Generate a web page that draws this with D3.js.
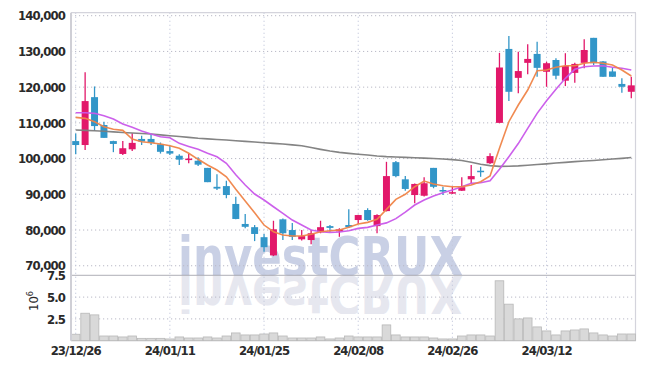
<!DOCTYPE html>
<html>
<head>
<meta charset="utf-8">
<script src="https://cdn.jsdelivr.net/npm/d3@7"></script>
<style>
  body { margin: 0; background: #fff; }
  svg { display: block; }
  .tick text { font-family: "DejaVu Sans Condensed", "DejaVu Sans", sans-serif; }
</style>
</head>
<body>
<svg id="chart" width="645" height="369"></svg>
<script>
const dates = ['23/12/26','23/12/27','23/12/28','24/01/02','24/01/03','24/01/04','24/01/05','24/01/08','24/01/09','24/01/10',
  '24/01/11','24/01/12','24/01/15','24/01/16','24/01/17','24/01/18','24/01/19','24/01/22','24/01/23','24/01/24',
  '24/01/25','24/01/26','24/01/29','24/01/30','24/01/31','24/02/01','24/02/02','24/02/05','24/02/06','24/02/07',
  '24/02/08','24/02/13','24/02/14','24/02/15','24/02/16','24/02/19','24/02/20','24/02/21','24/02/22','24/02/23',
  '24/02/26','24/02/27','24/02/28','24/02/29','24/03/04','24/03/05','24/03/06','24/03/07','24/03/08','24/03/11',
  '24/03/12','24/03/13','24/03/14','24/03/15','24/03/18','24/03/19','24/03/20','24/03/21','24/03/22','24/03/25'];

const openPrices = [104900,103800,117200,109400,104900,101300,102600,105500,105500,104000,
  102100,100800,99700,99400,97400,92100,92300,87300,81700,80800,
  78000,72900,83000,80000,77400,77200,79400,81100,79600,81400,
  82800,85600,81100,85300,99000,94200,89800,89600,97400,91200,
  90300,91000,94200,96600,98700,110000,130700,122600,126800,129300,
  124300,127600,121800,124000,126800,133800,127200,124400,120900,118700];
const highPrices = [107000,124200,120200,110300,105000,104900,107100,106400,106800,104500,
  103600,101200,101300,100400,97400,95600,93800,89300,84500,81400,
  78900,82600,83200,82000,80000,80000,82600,81400,80500,85800,
  84300,86100,84400,99100,99300,95100,93000,94800,97400,92100,
  92100,94800,98200,97700,101500,129600,134300,129900,132000,132700,
  127100,128100,129500,126800,133400,133800,127300,125400,122500,122900];
const lowPrices = [101200,102400,107800,105800,101800,101000,102100,103800,103800,101400,
  101000,98200,98700,97900,93400,91200,88900,83000,80500,76900,
  73900,72700,77200,77200,77100,76000,79100,79500,78100,80600,
  81700,82600,79100,85200,94800,91000,87500,89400,91700,89800,
  90100,90900,93100,94900,98500,109900,116100,118300,123600,122900,
  120100,122200,120300,121200,125300,126200,122900,122900,118400,116900];
const closePrices = [103800,116100,109100,105800,104100,102900,104400,104800,104400,101900,
  101400,99700,100000,98300,93400,91600,89800,83100,80900,78900,
  75200,80200,79100,78100,78300,79100,80800,80600,80200,80800,
  84200,82800,84200,95100,95100,91500,92900,93100,92100,90800,
  90600,92000,95100,96200,100700,125500,118700,124500,127900,125400,
  126700,123200,125900,126500,130400,126700,122900,122900,120100,120500];
// volume, millions of shares
const volumes = [0.74,3.15,2.96,0.54,0.54,0.43,0.54,0.27,0.27,0.27,
  0.2,0.43,0.31,0.31,0.43,0.31,0.54,0.89,0.66,0.66,
  0.77,0.89,0.54,0.31,0.31,0.31,0.43,0.2,0.31,0.54,
  0.43,0.43,0.43,1.81,0.66,0.43,0.43,0.43,0.31,0.2,
  0.2,0.54,0.66,0.66,0.54,6.87,4.19,2.5,2.61,1.58,
  1.12,0.66,1.12,1.23,1.35,0.89,0.66,0.54,0.77,0.77];
// moving averages as drawn
const maShort = [111550,111270,110320,108920,108190,107910,105480,104720,104440,104080,
  103600,102870,101500,99800,98200,96800,94920,91390,88120,84840,
  81400,79520,78600,78320,78320,78800,79520,79800,80000,80750,
  81680,82150,82990,85790,88590,90000,92120,93720,92880,92400,
  92120,92120,92600,93520,95120,102870,110320,115000,119200,124600,
  124800,125550,126000,126000,126670,126950,126670,126200,124800,123120];
const maMid = [112840,112840,112670,112000,111080,109680,108750,107720,106880,106120,
  105840,104270,103400,102590,101470,100520,98670,95500,92600,90080,
  88400,86520,84670,82800,81400,80000,79520,79350,79440,79800,
  80470,80750,81400,82000,83200,85000,87000,88400,89520,90450,
  91200,92120,93070,93240,93800,97000,100520,104200,108470,112670,
  116200,119390,122470,124990,125720,125920,126000,125550,125270,124800];
const maLong = [108000,107910,107800,107660,107490,107320,107180,107040,106880,106650,
  106400,106180,105950,105700,105530,105360,105200,105000,104830,104640,
  104440,104270,104080,103850,103600,103100,102590,102120,101750,101470,
  101220,101000,100720,100550,100440,100350,100240,100130,100020,99880,
  99710,99460,98980,98420,98030,97830,97860,97970,98140,98340,
  98530,98760,98950,99150,99320,99480,99680,99880,100070,100300];

const priceTicks = [70000,80000,90000,100000,110000,120000,130000,140000];
const volumeTicks = [2.5,5.0,7.5];
const dateTickIndex = [0,10,20,30,40,50];

const plot = {left: 71, right: 636, top: 12.7, split: 275.3, bottom: 340.7};
const upColor = '#e2186a';
const downColor = '#3296c8';

const svg = d3.select('#chart');

const xScale = d3.scaleBand()
  .domain(d3.range(dates.length))
  .range([plot.left, plot.right])
  .paddingInner(0.26)
  .paddingOuter(0.13);
const xc = i => xScale(i) + xScale.bandwidth() / 2;

const yPrice = d3.scaleLinear()
  .domain([67330, 140840])
  .range([plot.split, plot.top]);

const yVolume = d3.scaleLinear()
  .domain([0, 7.5])
  .range([plot.bottom, plot.split]);

// watermark + reflection
const wm = svg.append('g').attr('class', 'watermark');
const wmBase = 275;
wm.append('text')
  .attr('x', 178).attr('y', wmBase)
  .attr('textLength', 285).attr('lengthAdjust', 'spacingAndGlyphs')
  .style('font-family', 'DejaVu Sans, sans-serif')
  .style('font-weight', 'bold')
  .style('font-size', '53px')
  .style('fill', '#c9d0e5')
  .text('investCRUX');
wm.append('text')
  .attr('x', 178).attr('y', 0)
  .attr('transform', `translate(0, ${wmBase + 1}) scale(1, -1)`)
  .attr('textLength', 285).attr('lengthAdjust', 'spacingAndGlyphs')
  .style('font-family', 'DejaVu Sans, sans-serif')
  .style('font-weight', 'bold')
  .style('font-size', '53px')
  .style('fill', '#e6e7ef')
  .text('investCRUX');
// cut the reflection off below
svg.append('rect')
  .attr('x', 170).attr('y', 314).attr('width', 300).attr('height', 30)
  .style('fill', 'white');

// gridlines
const grid = svg.append('g');
grid.selectAll('.hgrid')
  .data(priceTicks)
  .join('line')
  .attr('x1', plot.left).attr('x2', plot.right)
  .attr('y1', d => yPrice(d)).attr('y2', d => yPrice(d))
  .style('stroke', '#b9b9c6')
  .style('stroke-dasharray', '1.2,2.8');
grid.selectAll('.vgrid')
  .data(volumeTicks.slice(0, 2))
  .join('line')
  .attr('x1', plot.left).attr('x2', plot.right)
  .attr('y1', d => yVolume(d)).attr('y2', d => yVolume(d))
  .style('stroke', '#b9b9c6')
  .style('stroke-dasharray', '1.2,2.8');
grid.selectAll('.xgrid')
  .data(dateTickIndex)
  .join('line')
  .attr('x1', d => xc(d)).attr('x2', d => xc(d))
  .attr('y1', plot.top).attr('y2', plot.bottom)
  .style('stroke', '#c3c8dc')
  .style('stroke-dasharray', '1.2,2.8');

// panel split
svg.append('line')
  .attr('x1', plot.left).attr('x2', plot.right)
  .attr('y1', plot.split).attr('y2', plot.split)
  .style('stroke', '#9a9aa4')
  .style('stroke-width', 0.8);

// frame
svg.append('line').attr('x1', plot.left).attr('x2', plot.right).attr('y1', plot.top).attr('y2', plot.top)
  .style('stroke', '#d4d4dc').style('stroke-width', 1.2);
svg.append('line').attr('x1', plot.right - 0.5).attr('x2', plot.right - 0.5).attr('y1', plot.top).attr('y2', plot.bottom)
  .style('stroke', '#d4d4dc').style('stroke-width', 1.2);
svg.append('line').attr('x1', plot.left).attr('x2', plot.right).attr('y1', plot.bottom).attr('y2', plot.bottom)
  .style('stroke', '#c4c4cc').style('stroke-width', 1);

// volume bars
svg.append('g').selectAll('rect')
  .data(volumes)
  .join('rect')
  .attr('x', (d, i) => xc(i) - xScale.step() / 2 + 0.4)
  .attr('width', xScale.step() - 0.8)
  .attr('y', d => yVolume(d))
  .attr('height', d => yVolume(0) - yVolume(d))
  .style('fill', '#d9d9d9')
  .style('stroke', '#b8b8b8')
  .style('stroke-width', 0.8);

// candles
const candles = svg.append('g').selectAll('g')
  .data(d3.range(dates.length))
  .join('g');
candles.append('line')
  .attr('x1', i => xc(i)).attr('x2', i => xc(i))
  .attr('y1', i => yPrice(highPrices[i]))
  .attr('y2', i => yPrice(lowPrices[i]))
  .style('stroke', i => closePrices[i] >= openPrices[i] ? upColor : downColor)
  .style('stroke-width', 1.3);
candles.append('rect')
  .attr('x', i => xScale(i))
  .attr('width', xScale.bandwidth())
  .attr('y', i => yPrice(Math.max(openPrices[i], closePrices[i])))
  .attr('height', i => Math.max(1.5, Math.abs(yPrice(openPrices[i]) - yPrice(closePrices[i]))))
  .style('fill', i => closePrices[i] >= openPrices[i] ? upColor : downColor);

// moving averages
const maLine = arr => d3.line()
  .x((d, i) => xc(i))
  .y(d => yPrice(d))(arr);

[[maLong, '#7d7d7d'], [maMid, '#c957ea'], [maShort, '#ef8448']].forEach(([arr, color]) => {
  svg.append('path')
    .attr('d', maLine(arr))
    .style('fill', 'none')
    .style('stroke', color)
    .style('stroke-width', 1.6)
    .style('opacity', 0.95);
});

// axes
const priceAxis = svg.append('g')
  .attr('transform', `translate(${plot.left}, 0)`)
  .call(d3.axisLeft(yPrice).tickValues(priceTicks).tickFormat(d3.format(',')).tickSize(0).tickPadding(6));
const volumeAxis = svg.append('g')
  .attr('transform', `translate(${plot.left}, 0)`)
  .call(d3.axisLeft(yVolume).tickValues(volumeTicks).tickFormat(d3.format('.1f')).tickSize(0).tickPadding(6));
const dateAxis = svg.append('g')
  .attr('transform', `translate(0, ${plot.bottom})`)
  .call(d3.axisBottom(xScale).tickValues(dateTickIndex).tickFormat(i => dates[i]).tickSize(0).tickPadding(5));

[priceAxis, volumeAxis, dateAxis].forEach(a => {
  a.select('.domain').remove();
  a.selectAll('text')
    .style('font-size', '13px')
    .style('font-weight', '600')
    .style('fill', '#2a2a2a')
    .style('letter-spacing', '-0.9px');
});
// left axis line
svg.append('line')
  .attr('x1', plot.left).attr('x2', plot.left)
  .attr('y1', plot.top).attr('y2', plot.bottom)
  .style('stroke', '#cfcfd6')
  .style('stroke-width', 2);

// volume unit
const unit = svg.append('text')
  .attr('transform', 'translate(38, 301) rotate(-90)')
  .style('font-family', 'DejaVu Sans Condensed, DejaVu Sans, sans-serif')
  .style('font-size', '13px')
  .style('fill', '#2a2a2a')
  .style('text-anchor', 'middle');
unit.append('tspan').text('10');
unit.append('tspan').attr('dy', -5).style('font-size', '9px').text('6');
</script>
</body>
</html>
